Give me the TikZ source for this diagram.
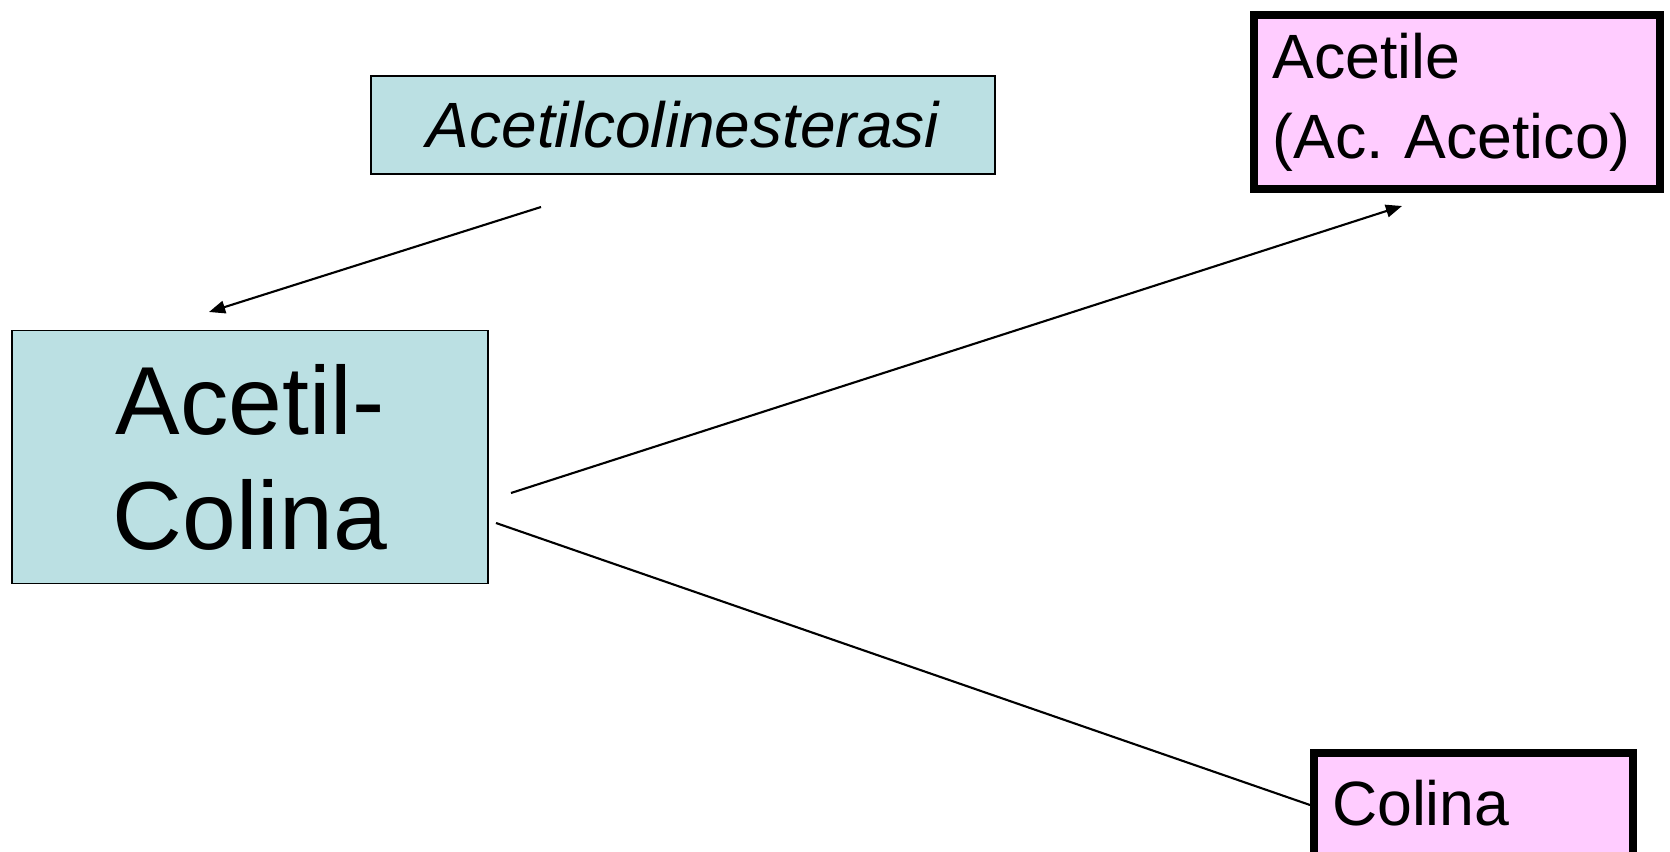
\documentclass[tikz,border=0pt]{standalone}
\usepackage{fontspec}
\setmainfont{Liberation Sans}
\usepackage{xcolor}
\usetikzlibrary{arrows.meta,positioning}
\definecolor{enzimablu}{RGB}{187,224,227}
\definecolor{prodottorosa}{RGB}{255,204,255}
\frenchspacing

\begin{document}
\begin{tikzpicture}[
    x=0.01cm, y=-0.01cm,
    substrate box/.style={draw=black, line width=0.45pt, fill=enzimablu, inner sep=0pt},
    product box/.style={draw=black, line width=2.3pt, fill=prodottorosa, align=left},
    reaction arrow/.style={line width=0.6pt, -{Triangle[length=4.6pt,width=3.6pt]}},
    reaction line/.style={line width=0.6pt}
]

% Frame
\clip (0,0) rectangle (1670,852);

% Enzyme
\node[substrate box, minimum width=6.24cm, minimum height=0.98cm,
      font=\fontsize{18.2}{22}\selectfont\itshape] (esterasi) at (683,125) {Acetilcolinesterasi};

% Substrate
\node[substrate box, minimum width=4.76cm, minimum height=2.53cm, align=center,
      font=\fontsize{27.5}{32.7}\selectfont] (acetilcolina) at (250,457) {Acetil-\\Colina};

% Products
\node[product box, minimum height=1.74cm, text width=3.69cm, inner xsep=0.18cm,
      font=\fontsize{17.8}{22.8}\selectfont] (acetile) at (1457,102) {Acetile\\(Ac. Acetico)};
\node[product box, anchor=north west, text width=2.83cm, inner xsep=0.18cm, inner ysep=0.1cm,
      text height=0.62cm, text depth=1cm,
      font=\fontsize{17.8}{22.8}\selectfont] (colina) at (1310,749) {Colina};

% Connector ends
\coordinate (esterasi out) at (541,207);
\coordinate (acetilcolina in) at (209,312);
\coordinate (acetilcolina out1) at (511,493);
\coordinate (acetile in) at (1402,206);
\coordinate (acetilcolina out2) at (496,523);
\coordinate (colina in) at (1310,805);

% Reaction
\draw[reaction arrow] (esterasi out) -- (acetilcolina in);
\draw[reaction arrow] (acetilcolina out1) -- (acetile in);
\draw[reaction line] (acetilcolina out2) -- (colina in);

\end{tikzpicture}
\end{document}
